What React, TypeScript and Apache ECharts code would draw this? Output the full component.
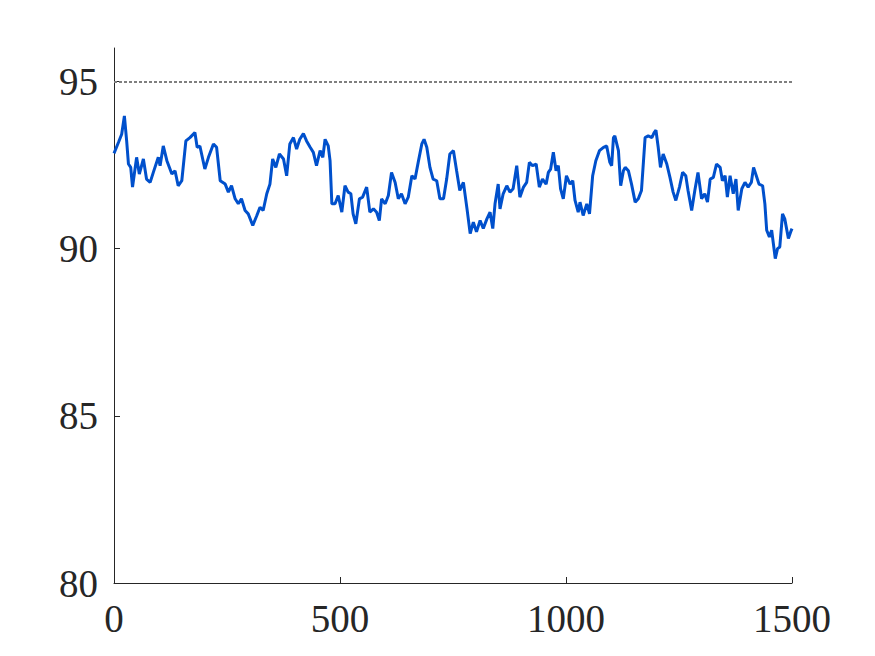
import React, { useEffect, useRef } from "react";
import * as echarts from "echarts";

const xValues: number[] = [
  0, 10, 17, 23, 28, 32, 37, 41, 50, 56, 65, 72, 80, 87, 98, 102, 109, 117, 128, 135,
  142, 150, 159, 168, 179, 184, 190, 201, 209, 220, 227, 235, 246, 253, 260, 268, 275, 282, 290, 297,
  307, 316, 323, 330, 338, 345, 351, 358, 366, 375, 382, 389, 397, 404, 411, 419, 426, 434, 441, 448,
  456, 462, 467, 474, 478, 482, 489, 496, 504, 511, 518, 524, 529, 535, 543, 550, 559, 566, 574, 581,
  587, 592, 600, 607, 614, 622, 629, 636, 644, 651, 659, 666, 673, 681, 686, 692, 699, 706, 714, 721,
  729, 736, 743, 751, 758, 765, 773, 781, 788, 795, 802, 810, 817, 825, 832, 838, 843, 850, 854, 861,
  869, 876, 883, 891, 898, 906, 913, 919, 926, 934, 941, 948, 956, 961, 966, 972, 978, 983, 988, 994,
  1001, 1009, 1015, 1020, 1027, 1031, 1038, 1046, 1052, 1059, 1066, 1074, 1083, 1090, 1097, 1101, 1105, 1108, 1116, 1121,
  1127, 1131, 1138, 1145, 1153, 1160, 1167, 1175, 1182, 1190, 1195, 1199, 1204, 1209, 1215, 1223, 1230, 1237, 1243, 1251,
  1258, 1265, 1270, 1278, 1285, 1292, 1300, 1307, 1313, 1319, 1326, 1333, 1341, 1346, 1352, 1357, 1363, 1370, 1376, 1381,
  1389, 1396, 1403, 1410, 1415, 1421, 1427, 1435, 1440, 1444, 1450, 1455, 1463, 1468, 1473, 1479, 1484, 1492, 1497, 1500,
];

const yValues: number[] = [
  92.85, 93.18, 93.42, 93.97, 93.22, 92.53, 92.43, 91.84, 92.73, 92.23, 92.68, 92.08, 91.98, 92.28, 92.73, 92.48, 93.07, 92.63, 92.23, 92.33,
  91.88, 92.03, 93.22, 93.32, 93.47, 93.03, 93.07, 92.38, 92.73, 93.13, 93.03, 92.03, 91.93, 91.69, 91.88, 91.49, 91.34, 91.49, 91.14, 91.04,
  90.69, 90.99, 91.24, 91.14, 91.64, 91.93, 92.68, 92.43, 92.83, 92.68, 92.18, 93.13, 93.32, 92.98, 93.27, 93.44, 93.22, 93.03, 92.88, 92.48,
  92.93, 92.73, 93.27, 93.07, 92.63, 91.34, 91.34, 91.59, 91.09, 91.88, 91.69, 91.64, 91.04, 90.74, 91.49, 91.54, 91.84, 91.09, 91.19, 91.09,
  90.84, 91.49, 91.34, 91.59, 92.28, 91.98, 91.49, 91.64, 91.34, 91.54, 92.18, 92.08, 92.58, 93.13, 93.27, 93.03, 92.43, 92.08, 92.03, 91.49,
  91.49, 92.08, 92.83, 92.93, 92.33, 91.74, 91.98, 91.19, 90.45, 90.79, 90.5, 90.84, 90.6, 90.89, 91.09, 90.6, 91.34, 91.93, 91.19, 91.64,
  91.88, 91.69, 91.79, 92.48, 91.54, 91.84, 91.98, 92.58, 92.48, 92.53, 91.84, 92.08, 91.93, 92.28, 92.38, 92.88, 92.33, 92.48, 91.79, 91.49,
  92.18, 91.93, 92.03, 91.44, 91.09, 91.39, 90.99, 91.34, 91.04, 92.18, 92.63, 92.93, 93.03, 93.07, 92.58, 92.48, 93.32, 93.37, 92.93, 91.88,
  92.33, 92.43, 92.33, 91.93, 91.39, 91.49, 91.74, 93.32, 93.37, 93.32, 93.47, 93.54, 93.03, 92.43, 92.83, 92.53, 92.13, 91.69, 91.44, 91.84,
  92.28, 92.18, 91.74, 91.14, 91.74, 92.28, 91.49, 91.64, 91.39, 92.08, 92.13, 92.53, 92.43, 92.03, 92.18, 91.54, 92.18, 91.64, 92.08, 91.14,
  91.79, 91.98, 91.84, 91.98, 92.43, 92.18, 91.93, 91.88, 91.34, 90.55, 90.35, 90.55, 89.7, 90.0, 90.05, 91.04, 90.89, 90.3, 90.5, 90.6,
];

const xTicks: number[] = [0, 500, 1000, 1500];
const yTicks: number[] = [80, 85, 90, 95];
const referenceLevel = 95;

export default function App() {
  const ref = useRef<HTMLDivElement>(null);

  useEffect(() => {
    if (!ref.current) return;
    const chart = echarts.init(ref.current, null, { renderer: "svg" });
    const data = xValues.map((x, i) => [x, yValues[i]]);
    const font = "'Liberation Serif', 'Times New Roman', serif";
    chart.setOption({
      animation: false,
      backgroundColor: "#ffffff",
      grid: { left: 114, right: 83, top: 48, bottom: 73, containLabel: false },
      xAxis: {
        type: "value",
        min: 0,
        max: 1500,
        interval: 500,
        axisLine: { show: true, lineStyle: { color: "#262626", width: 1 } },
        axisTick: { show: true, inside: true, length: 6, customValues: xTicks, lineStyle: { color: "#262626" } },
        splitLine: { show: false },
        axisLabel: {
          customValues: xTicks,
          formatter: (v: number) => String(v),
          color: "#262626",
          fontFamily: font,
          fontSize: 39,
          margin: 16,
        },
      },
      yAxis: {
        type: "value",
        min: 80,
        max: 96,
        interval: 5,
        axisLine: { show: true, lineStyle: { color: "#262626", width: 1 } },
        axisTick: { show: true, inside: true, length: 6, customValues: yTicks, lineStyle: { color: "#262626" } },
        splitLine: { show: false },
        axisLabel: {
          customValues: yTicks,
          formatter: (v: number) => String(v),
          color: "#262626",
          fontFamily: font,
          fontSize: 39,
          margin: 16,
        },
      },
      series: [
        {
          type: "line",
          data,
          showSymbol: false,
          lineStyle: { color: "#0050cc", width: 3 },
          itemStyle: { color: "#0050cc" },
          markLine: {
            silent: true,
            symbol: ["none", "none"],
            label: { show: false },
            lineStyle: { color: "#7f7f7f", type: [3, 2], width: 2 },
            data: [{ yAxis: referenceLevel }],
          },
        },
      ],
    });
    return () => chart.dispose();
  }, []);

  return (
    <div
      ref={ref}
      style={{ position: "fixed", left: 0, top: 0, width: 875, height: 656, background: "#fff" }}
    />
  );
}
